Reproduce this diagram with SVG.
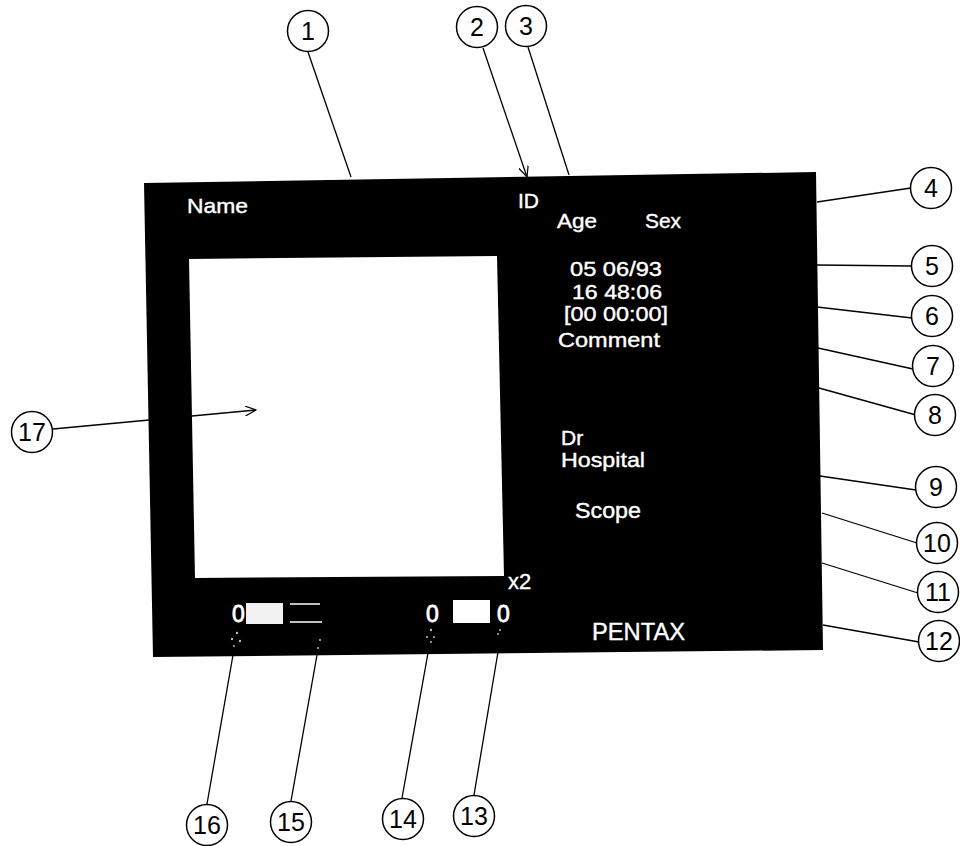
<svg xmlns="http://www.w3.org/2000/svg" width="960" height="846" viewBox="0 0 960 846">
<style>
.bg{fill:#fff}
.panel{fill:#000}
.scr{fill:#fff}
.t{fill:#fff;stroke:#fff;stroke-width:0.4;font-family:"Liberation Sans",Arial,sans-serif;font-size:21px}
.z{font-size:23px;stroke-width:0.8}
.lead{stroke:#000;stroke-width:1.3;fill:none}
.c{fill:#fff;stroke:#000;stroke-width:1.5}
.n{fill:#000;font-family:"Liberation Sans",Arial,sans-serif;font-size:25px;text-anchor:middle}
</style>
<defs>
<marker id="arr" viewBox="0 0 12 10" refX="11" refY="5" markerWidth="12" markerHeight="10" markerUnits="userSpaceOnUse" orient="auto">
<path d="M0,0 L11,5 L0,10" fill="none" stroke="#000" stroke-width="1.2"/>
</marker>
</defs>
<rect class="bg" x="0" y="0" width="960" height="846"/>
<g id="monitor">
<polygon class="panel" points="144,183 816,172 823,650 153,657"/>
<polygon class="scr" points="189,259 497,256 504,576 195,578"/>
<text class="t" x="187" y="213" textLength="61" lengthAdjust="spacingAndGlyphs">Name</text>
<text class="t" x="518" y="208">ID</text>
<text class="t" x="557" y="228" textLength="40" lengthAdjust="spacingAndGlyphs">Age</text>
<text class="t" x="645" y="228" textLength="36" lengthAdjust="spacingAndGlyphs">Sex</text>
<text class="t" x="570" y="276" textLength="92" lengthAdjust="spacingAndGlyphs" style="font-size:20px">05 06/93</text>
<text class="t" x="572" y="299" textLength="90" lengthAdjust="spacingAndGlyphs" style="font-size:20px">16 48:06</text>
<text class="t" x="564" y="321" textLength="104" lengthAdjust="spacingAndGlyphs" style="font-size:20px">[00 00:00]</text>
<text class="t" x="558" y="347" textLength="102" lengthAdjust="spacingAndGlyphs">Comment</text>
<text class="t" x="561" y="445">Dr</text>
<text class="t" x="561" y="467" textLength="84" lengthAdjust="spacingAndGlyphs">Hospital</text>
<text class="t" x="575" y="518" textLength="66" lengthAdjust="spacingAndGlyphs" style="font-size:22px">Scope</text>
<text class="t" x="508" y="589" style="font-size:22px">x2</text>
<text class="t" x="592" y="640" textLength="93" lengthAdjust="spacingAndGlyphs" style="font-size:24px">PENTAX</text>
<text class="t z" x="232" y="622">0</text>
<rect x="246" y="603" width="37" height="21" fill="#f2f2f2"/>
<path d="M290,604 H320 M290,622 H322" stroke="#fff" stroke-width="1.5"/>
<text class="t z" x="426" y="622">0</text>
<rect x="453" y="600" width="37" height="23" fill="#fff"/>
<text class="t z" x="497" y="622">0</text>
<g fill="#bbb">
<circle cx="237" cy="633" r="1.2"/><circle cx="232" cy="639" r="1.2"/><circle cx="240" cy="641" r="1.2"/><circle cx="234" cy="646" r="1"/>
<circle cx="320" cy="640" r="1"/><circle cx="318" cy="648" r="1"/>
<circle cx="431" cy="630" r="1.2"/><circle cx="427" cy="637" r="1"/><circle cx="434" cy="637" r="1"/><circle cx="431" cy="642" r="1"/>
<circle cx="500" cy="630" r="1"/><circle cx="498" cy="634" r="1"/>
</g>
</g>
<g id="connectors">
<line class="lead" x1="308" y1="52" x2="351" y2="177"/>
<line class="lead" x1="483" y1="48" x2="527" y2="177" marker-end="url(#arr)"/>
<line class="lead" x1="528" y1="47" x2="569" y2="175"/>
<line class="lead" x1="817" y1="202" x2="911" y2="188"/>
<line class="lead" x1="817" y1="265" x2="912" y2="266"/>
<line class="lead" x1="817" y1="307" x2="912" y2="318"/>
<line class="lead" x1="818" y1="348" x2="913" y2="369"/>
<line class="lead" x1="819" y1="388" x2="916" y2="415"/>
<line class="lead" x1="820" y1="476" x2="916" y2="490"/>
<line class="lead" x1="822" y1="513" x2="917" y2="543"/>
<line class="lead" x1="822" y1="563" x2="918" y2="593"/>
<line class="lead" x1="823" y1="625" x2="919" y2="642"/>
<line class="lead" x1="233" y1="655" x2="207" y2="804"/>
<line class="lead" x1="317" y1="655" x2="291" y2="801"/>
<line class="lead" x1="428" y1="653" x2="402" y2="798"/>
<line class="lead" x1="498" y1="652" x2="474" y2="795"/>
<line class="lead" x1="53" y1="429" x2="256" y2="410" marker-end="url(#arr)"/>
</g>
<g id="callout-1"><circle class="c" cx="308" cy="31" r="20.5"/><text class="n" x="308" y="40">1</text></g>
<g id="callout-2"><circle class="c" cx="477" cy="27" r="20.5"/><text class="n" x="477" y="36">2</text></g>
<g id="callout-3"><circle class="c" cx="526" cy="26" r="20.5"/><text class="n" x="526" y="35">3</text></g>
<g id="callout-4"><circle class="c" cx="931" cy="188" r="20.5"/><text class="n" x="931" y="197">4</text></g>
<g id="callout-5"><circle class="c" cx="932" cy="266" r="20.5"/><text class="n" x="932" y="275">5</text></g>
<g id="callout-6"><circle class="c" cx="932" cy="316" r="20.5"/><text class="n" x="932" y="325">6</text></g>
<g id="callout-7"><circle class="c" cx="933" cy="366" r="20.5"/><text class="n" x="933" y="375">7</text></g>
<g id="callout-8"><circle class="c" cx="935" cy="415" r="20.5"/><text class="n" x="935" y="424">8</text></g>
<g id="callout-9"><circle class="c" cx="936" cy="487" r="20.5"/><text class="n" x="936" y="496">9</text></g>
<g id="callout-10"><circle class="c" cx="937" cy="543" r="20.5"/><text class="n" x="937" y="552">10</text></g>
<g id="callout-11"><circle class="c" cx="938" cy="592" r="20.5"/><text class="n" x="938" y="601">11</text></g>
<g id="callout-12"><circle class="c" cx="939" cy="641" r="20.5"/><text class="n" x="939" y="650">12</text></g>
<g id="callout-13"><circle class="c" cx="474" cy="816" r="20.5"/><text class="n" x="474" y="825">13</text></g>
<g id="callout-14"><circle class="c" cx="403" cy="819" r="20.5"/><text class="n" x="403" y="828">14</text></g>
<g id="callout-15"><circle class="c" cx="291" cy="822" r="20.5"/><text class="n" x="291" y="831">15</text></g>
<g id="callout-16"><circle class="c" cx="207" cy="825" r="20.5"/><text class="n" x="207" y="834">16</text></g>
<g id="callout-17"><circle class="c" cx="32" cy="432" r="20.5"/><text class="n" x="32" y="441">17</text></g>
</svg>
